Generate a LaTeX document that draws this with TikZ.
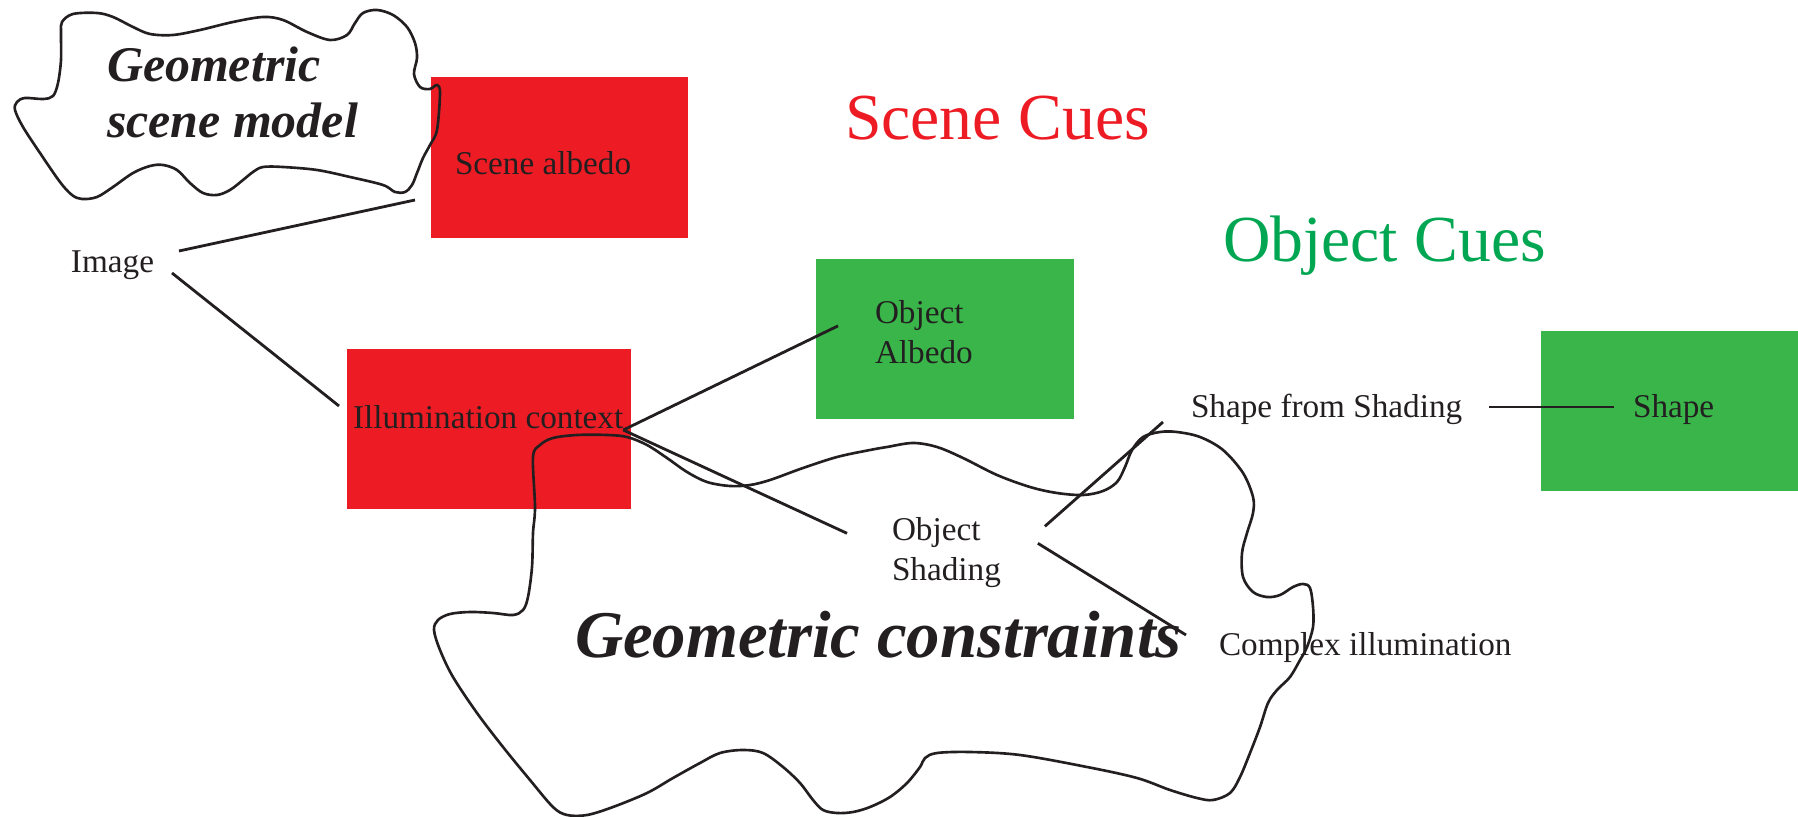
\documentclass[tikz,border=0pt]{standalone}
\usepackage{fontspec}
\setmainfont{Liberation Serif}
\usetikzlibrary{calc}
\definecolor{boxred}{HTML}{ED1C24}
\definecolor{boxgreen}{HTML}{39B54A}
\definecolor{cuegreen}{HTML}{00A651}
\definecolor{ink}{HTML}{231F20}
\begin{document}
\begin{tikzpicture}[x=0.1mm, y=-0.1mm,
  redbox/.style={fill=boxred, draw=none, inner sep=0pt, outer sep=0pt, anchor=north west},
  greenbox/.style={fill=boxgreen, draw=none, inner sep=0pt, outer sep=0pt, anchor=north west},
  lbl/.style={inner sep=0pt, outer sep=0pt, text=ink, font=\fontsize{9.45pt}{11.5pt}\selectfont},
  cue/.style={inner sep=0pt, outer sep=0pt, font=\fontsize{18.7pt}{22pt}\selectfont, anchor=base west},
  bigtitle/.style={inner sep=0pt, outer sep=0pt, text=ink, font=\fontsize{19pt}{22pt}\selectfont\bfseries\itshape, anchor=base west},
  smalltitle/.style={inner sep=0pt, outer sep=0pt, text=ink, align=left, anchor=north west, font=\fontsize{14.2pt}{15.9pt}\selectfont\bfseries\itshape},
  blob/.style={draw=ink, line width=0.75pt},
  conn/.style={draw=ink, line width=0.8pt}]
\useasboundingbox (0,0) rectangle (1798,817);

% coloured boxes
\node[redbox, minimum width=25.7mm, minimum height=16.1mm] (sabox) at (431,77) {};
\node[redbox, minimum width=28.4mm, minimum height=16.0mm] (ilbox) at (347,349) {};
\node[greenbox, minimum width=25.8mm, minimum height=16.0mm] (oabox) at (816,259) {};
\node[greenbox, minimum width=25.7mm, minimum height=16.0mm] (shbox) at (1541,331) {};

% blob: geometric scene model
\draw[blob] plot[smooth cycle, tension=0.55] coordinates {
 (62,22) (73,14) (97,13) (113,17) (133,27) (150,34) (173,35) (200,30) (233,22)
 (263,17) (283,20) (307,32) (330,40) (347,35) (355,23) (363,13) (377,10) (393,15)
 (407,27) (415,43) (417,58) (414,74) (420,87) (430,89) (437,85) (440,93) (437,130)
 (430,145) (423,158) (417,173) (412,185) (405,192) (395,192) (383,185) (350,177)
 (317,170) (283,167) (263,167) (253,172) (243,180) (230,190) (217,195) (203,193)
 (190,183) (177,170) (163,165) (150,166) (133,173) (113,187) (97,197) (82,199)
 (72,195) (60,182) (40,153) (23,127) (15,110) (17,102) (25,98) (43,99) (53,96)
 (58,83) (61,60) (61,33)};

% blob: geometric constraints
\draw[blob] plot[smooth cycle, tension=0.55] coordinates {
 (535,507) (533,457) (540,445) (553,438) (577,435) (607,435) (627,437) (647,445)
 (667,458) (687,472) (707,482) (730,486) (750,485) (770,480) (803,468) (837,457)
 (870,450) (887,447) (913,443) (937,447) (963,458) (997,475) (1030,487) (1057,493)
 (1083,495) (1103,491) (1117,482) (1125,467) (1132,450) (1143,437) (1160,432)
 (1177,432) (1200,437) (1223,450) (1243,473) (1253,497) (1253,513) (1247,533)
 (1242,553) (1243,577) (1253,592) (1267,597) (1280,595) (1293,587) (1303,584)
 (1310,588) (1313,607) (1313,627) (1307,647) (1300,660) (1290,677) (1277,690)
 (1268,703) (1260,727) (1250,753) (1240,777) (1230,793) (1213,800) (1197,798)
 (1170,790) (1137,778) (1087,767) (1020,755) (970,752) (937,753) (925,758)
 (920,767) (907,783) (890,797) (870,807) (853,812) (837,813) (823,810) (813,800)
 (800,783) (783,767) (763,753) (743,750) (720,753) (700,763) (673,778) (647,793)
 (613,807) (587,815) (567,815) (553,807) (530,780) (503,747) (477,713) (453,677)
 (440,650) (434,630) (438,620) (450,614) (470,612) (493,613) (513,615) (523,610)
 (528,597) (532,567) (533,533)};

% texts
\node[smalltitle] (gsm) at (107,47) {Geometric\\scene model};
\node[bigtitle] (gc) at (575,657) {Geometric constraints};
\node[cue, text=boxred] (scuesn) at (845,140) {Scene Cues};
\node[cue, text=cuegreen] (ocues) at (1223,262) {Object Cues};

\node[lbl, anchor=base west] (img) at (71,273) {Image};
\node[lbl, anchor=base west] (satext) at (455,175) {Scene albedo};
\node[lbl, anchor=base west] (iltext) at (353,429) {Illumination context};
\node[lbl, anchor=north west, align=left] (oatext) at (875,300) {Object\\Albedo};
\node[lbl, anchor=north west, align=left] (ostext) at (892,517) {Object\\Shading};
\node[lbl, anchor=base west] (sfs) at (1191,417) {Shape from Shading};
\node[lbl, anchor=base west] (shtext) at (1633,417) {Shape};
\node[lbl, anchor=base west] (cx) at (1219,655) {Complex illumination};

% connectors
\draw[conn] ($(img.base east)+(25,-22)$) -- ($(sabox.south west)+(-16,-38)$);
\draw[conn] ($(img.base east)+(18,0)$) -- ($(ilbox.north west)+(-8,57)$);
\draw[conn] ($(iltext.base east)+(0,1)$) -- ($(oatext.west)+(-37,-6)$);
\draw[conn] ($(iltext.base east)+(0,1)$) -- ($(ostext.west)+(-45,-19)$);
\draw[conn] ($(ostext.east)+(44,-26)$) -- ($(sfs.base west)+(-28,5)$);
\draw[conn] ($(ostext.east)+(37,-9)$) -- ($(cx.base west)+(-33,-20)$);
\draw[conn] ($(sfs.base east)+(27,-10)$) -- ($(shtext.base west)+(-19,-10)$);
\end{tikzpicture}
\end{document}
